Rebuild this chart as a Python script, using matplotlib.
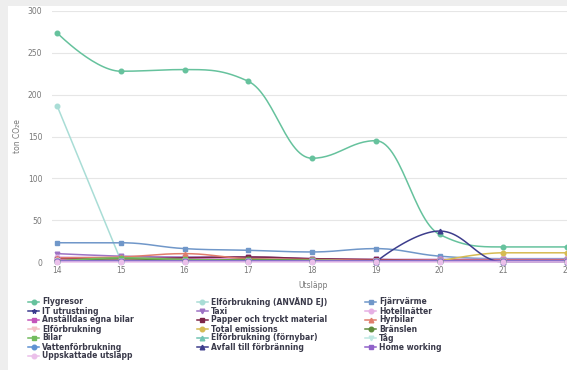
import numpy as np
import matplotlib
matplotlib.use("Agg")
import matplotlib.pyplot as plt
from matplotlib.lines import Line2D
from matplotlib.patches import Rectangle

years = [14, 15, 16, 17, 18, 19, 20, 21, 22]

flygresor = [274, 228, 230, 216, 124, 145, 33, 18, 18]
elf_anvand_ej = [187, 2, None, None, None, None, None, None, None]
fjarrvarme = [23, 23, 16, 14, 12, 16, 7, 4, 4]
it_utrustning = [None, None, None, None, None, None, None, None, None]
taxi = [10, 7, 6, 6, 4, 3, 3, 3, 3]
hotellnatter = [6, 5, 4, 4, 3, 3, 3, 3, 3]
anstalldas_bilar = [3, 3, 3, 3, 2, 2, 2, 2, 2]
papper = [4, 4, 5, 6, 4, 3, 2, 2, 2]
hyrbilar = [5, 6, 10, 4, 3, 2, 2, 2, 2]
elforbrukning = [2, 2, 2, 2, 2, 1, 1, 1, 1]
total_emissions = [None, None, None, None, None, None, 1, 11, 11]
branslen = [1, 4, 2, 3, 2, 1, 1, 1, 1]
bilar = [1, 5, 3, 2, 2, 1, 1, 1, 1]
elf_fornybar = [1, 1, 1, 1, 1, 1, 1, 1, 1]
tag = [1, 1, 1, 1, 1, 1, 1, 1, 1]
vattenforbrukning = [1, 1, 1, 1, 1, 1, 1, 1, 1]
avfall = [None, None, None, None, None, 0, 37, 0, 0]
home_working = [1, 1, 1, 1, 1, 1, 1, 1, 1]
uppskattade = [0, 0, 0, 0, 0, 0, 0, 0, 0]

series = [
    ("Flygresor", flygresor, "#66c29d", "o"),
    ("Elförbrukning (ANVÄND EJ)", elf_anvand_ej, "#a9ddd6", "o"),
    ("Fjärrvärme", fjarrvarme, "#7097c9", "s"),
    ("IT utrustning", it_utrustning, "#3b3b8e", "*"),
    ("Taxi", taxi, "#9d72c4", "v"),
    ("Hotellnätter", hotellnatter, "#e6b0e4", "o"),
    ("Anställdas egna bilar", anstalldas_bilar, "#c455bb", "s"),
    ("Papper och tryckt material", papper, "#7d2547", "s"),
    ("Hyrbilar", hyrbilar, "#e07d6c", "^"),
    ("Elförbrukning", elforbrukning, "#f3c0c6", "v"),
    ("Total emissions", total_emissions, "#d6bb52", "o"),
    ("Bränslen", branslen, "#5f8c3c", "o"),
    ("Bilar", bilar, "#72bb5e", "s"),
    ("Elförbrukning (förnybar)", elf_fornybar, "#71c4b3", "^"),
    ("Tåg", tag, "#bfe8e2", "v"),
    ("Vattenförbrukning", vattenforbrukning, "#5f92d2", "o"),
    ("Avfall till förbränning", avfall, "#3d3d8c", "^"),
    ("Home working", home_working, "#9062c9", "s"),
    ("Uppskattade utsläpp", uppskattade, "#ebc0ea", "o"),
]


def spline_path(xs, ys, n=30):
    # highcharts-style spline through the points
    k, d = 1.5, 2.5
    m = len(xs)
    lc = [(x, y) for x, y in zip(xs, ys)]
    rc = [(x, y) for x, y in zip(xs, ys)]
    for i in range(1, m - 1):
        px, py = xs[i], ys[i]
        lx, ly = xs[i - 1], ys[i - 1]
        nx, ny = xs[i + 1], ys[i + 1]
        lcx, lcy = (k * px + lx) / d, (k * py + ly) / d
        rcx, rcy = (k * px + nx) / d, (k * py + ny) / d
        corr = (rcy - lcy) * (rcx - px) / (rcx - lcx) + py - rcy
        lcy += corr
        rcy += corr
        if lcy > ly and lcy > py:
            lcy = max(ly, py); rcy = 2 * py - lcy
        elif lcy < ly and lcy < py:
            lcy = min(ly, py); rcy = 2 * py - lcy
        if rcy > ny and rcy > py:
            rcy = max(ny, py); lcy = 2 * py - rcy
        elif rcy < ny and rcy < py:
            rcy = min(ny, py); lcy = 2 * py - rcy
        lc[i] = (lcx, lcy)
        rc[i] = (rcx, rcy)
    outx, outy = [xs[0]], [ys[0]]
    t = np.linspace(0, 1, n)[1:]
    for i in range(1, m):
        p0 = np.array([xs[i - 1], ys[i - 1]])
        p1 = np.array(rc[i - 1])
        p2 = np.array(lc[i])
        p3 = np.array([xs[i], ys[i]])
        b = ((1 - t) ** 3)[:, None] * p0 + (3 * (1 - t) ** 2 * t)[:, None] * p1 \
            + (3 * (1 - t) * t ** 2)[:, None] * p2 + (t ** 3)[:, None] * p3
        outx.extend(b[:, 0]); outy.extend(b[:, 1])
    return outx, outy


fig = plt.figure(figsize=(5.67, 3.70), dpi=100, facecolor="#eeeeee")
fig.add_artist(Rectangle((8 / 567, 0), 1, 1 - 6 / 370, transform=fig.transFigure,
                         facecolor="white", edgecolor="none", zorder=0))

ax = fig.add_axes([52 / 567, 108 / 370, 523 / 567, 251 / 370])
ax.set_facecolor("none")
ax.set_xlim(14 - 5 / 63.75, 22 + 8 / 63.75)
ax.set_ylim(0, 300)
for s in ax.spines.values():
    s.set_visible(False)
ax.set_yticks(range(0, 301, 50))
ax.set_xticks(years)
ax.grid(axis="y", color="#e6e6e6", linewidth=0.8)
ax.set_axisbelow(True)
ax.tick_params(length=0, labelsize=5.5, labelcolor="#777777", pad=3)
ax.tick_params(axis="y", pad=7)
ax.set_ylabel("ton CO₂e", fontsize=5.5, color="#777777")
ax.yaxis.set_label_coords(-30 / 523, 0.5)
ax.set_xlabel("Utsläpp", fontsize=5.5, color="#777777", labelpad=4)

for name, vals, color, mk in series:
    seg_x, seg_y = [], []
    for x, v in list(zip(years, vals)) + [(None, None)]:
        if v is None:
            if len(seg_x) > 1:
                sx, sy = spline_path(seg_x, seg_y)
                ax.plot(sx, sy, color=color, lw=1.1, clip_on=False, zorder=3)
            if seg_x:
                ax.plot(seg_x, seg_y, ls="none", marker=mk, ms=3.3, color=color,
                        clip_on=False, zorder=4)
            seg_x, seg_y = [], []
        else:
            seg_x.append(x)
            seg_y.append(v)

# legend, three entries per row
col_x = [28, 197, 365]
for i, (name, vals, color, mk) in enumerate(series):
    c, r = i % 3, i // 3
    x0 = col_x[c] / 567
    y0 = 1 - (302 + r * 9) / 370
    fig.add_artist(Line2D([x0, x0 + 11 / 567], [y0, y0], transform=fig.transFigure,
                          color=color, lw=1.1))
    fig.add_artist(Line2D([x0 + 5.5 / 567], [y0], transform=fig.transFigure,
                          color=color, marker=mk, ms=3.3))
    fig.text(x0 + 14 / 567, y0, name, fontsize=5.5, fontweight="bold",
             color="#3a3a4a", va="center", ha="left")

fig.savefig("out.png", dpi=100, facecolor=fig.get_facecolor())
